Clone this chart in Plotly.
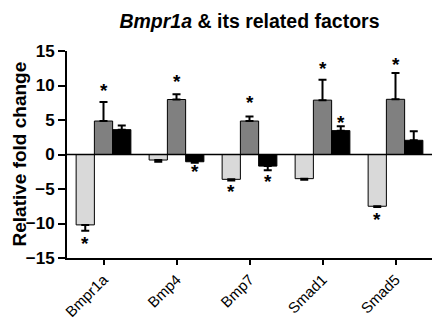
import plotly.graph_objects as go

categories = ["Bmpr1a", "Bmp4", "Bmp7", "Smad1", "Smad5"]
light_vals = [-10.2, -0.8, -3.6, -3.5, -7.5]
light_err = [0.85, 0.25, 0.15, 0.15, 0.1]
mid_vals = [4.85, 7.97, 4.85, 7.88, 8.0]
mid_err = [2.75, 0.78, 0.65, 2.97, 3.8]
dark_vals = [3.6, -1.05, -1.68, 3.46, 2.06]
dark_err = [0.6, 0.15, 0.6, 0.62, 1.3]
# significance stars: (category index, series index 0/1/2, y value)
stars = [(0, 0, -12.6), (0, 1, 9.6), (1, 1, 10.9), (1, 2, -2.2), (2, 0, -5.0),
         (2, 1, 7.8), (2, 2, -3.6), (3, 1, 12.8), (3, 2, 5.0), (4, 0, -9.1), (4, 1, 13.3)]
yticks = [-15, -10, -5, 0, 5, 10, 15]

FONT = "Arial, Liberation Sans, sans-serif"

def err(vals, errs):
    plus = [e if v >= 0 else 0 for v, e in zip(vals, errs)]
    minus = [e if v < 0 else 0 for v, e in zip(vals, errs)]
    return dict(type="data", symmetric=False, array=plus, arrayminus=minus,
                color="black", thickness=2, width=4)

fig = go.Figure()
for vals, errs, col in [(light_vals, light_err, "#d9d9d9"),
                        (mid_vals, mid_err, "#808080"),
                        (dark_vals, dark_err, "#000000")]:
    fig.add_trace(go.Bar(x=categories, y=vals, marker=dict(color=col, line=dict(color="black", width=1)),
                         error_y=err(vals, errs), showlegend=False, hoverinfo="skip"))

offsets = [-18.3, 0, 18.3]
for ci, si, yv in stars:
    fig.add_annotation(x=categories[ci], y=yv, xref="x", yref="y", text="<b>*</b>", showarrow=False,
                       xshift=offsets[si], yshift=-2,
                       font=dict(size=19, color="black", family=FONT))

fig.add_shape(type="line", xref="paper", yref="y", x0=0, x1=1, y0=0, y1=0,
              line=dict(color="black", width=1.5))

fig.add_annotation(text="<b>Relative fold change</b>", textangle=-90, xref="paper", yref="paper",
                   x=(19 - 67) / 365, y=0.5, xanchor="center", yanchor="middle", showarrow=False,
                   font=dict(size=19, color="black", family=FONT))

fig.update_layout(
    width=432, height=320, barmode="group", bargap=0.25, bargroupgap=0,
    margin=dict(l=67, r=0, t=51, b=62),
    paper_bgcolor="white", plot_bgcolor="white",
    font=dict(family=FONT, color="black"),
    title=dict(text="<b><i>Bmpr1a</i> & its related factors</b>", x=0.5775, xanchor="center",
               y=0.935, yanchor="middle", font=dict(size=19.5, color="black")),
    xaxis=dict(range=[-0.5, 4.5], showline=True, linecolor="black", linewidth=2,
               ticks="outside", ticklen=5, tickwidth=2, tickcolor="black",
               tickangle=-45, tickfont=dict(size=15), showgrid=False, zeroline=False,
               automargin=False),
    yaxis=dict(range=[-15, 15], tickvals=yticks, showline=True, linecolor="black", linewidth=2,
               ticks="outside", ticklen=7, tickwidth=2, tickcolor="black",
               tickfont=dict(size=17, weight="bold"), showgrid=False, zeroline=False,
               automargin=False),
)
fig.write_html("out.html", post_script="document.body.style.margin='0';",
               config={"displayModeBar": False})
